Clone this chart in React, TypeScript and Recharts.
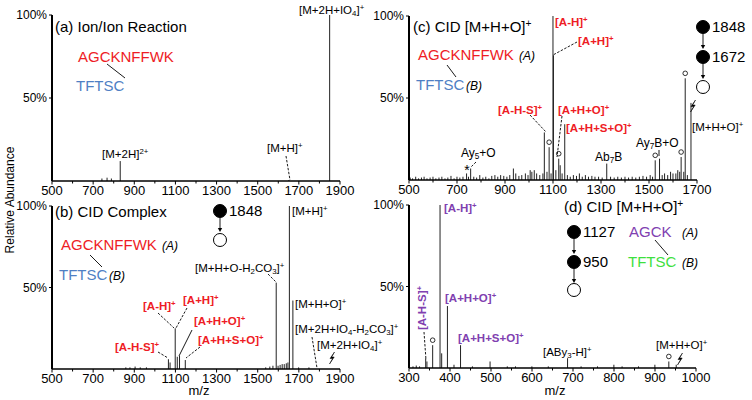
import React from "react";
import { ComposedChart, Bar, XAxis, YAxis } from "recharts";

// (a) Ion/Ion reaction
const ionIonMz = [741, 766, 787, 830, 1650, 1848];
const ionIonInt = [1.5, 2, 1.5, 12, 0.6, 100];

// (b) CID of the complex
const complexMz = [860, 880, 905, 930, 960, 1067, 1075, 1100, 1110, 1121, 1149, 1540, 1560, 1575, 1591, 1600, 1610, 1620, 1630, 1640, 1648, 1655, 1672, 1700, 1750];
const complexInt = [1, 1, 1.5, 1, 1, 6, 4, 25, 7.5, 8, 5.5, 1, 1.5, 2, 53, 2, 2.5, 3, 3, 3.5, 4, 100, 42, 1, 1];

// (c) CID [M+H+O]+ (1672)
const cidMz = [
  505, 515, 528, 540, 552, 563, 575, 588, 600, 612, 625, 637, 650, 662, 675, 688, 700, 712, 725, 740,
  748, 757, 770, 782, 795, 808, 820, 833, 845, 858, 870, 882, 895, 908, 920, 935, 945, 958, 970, 985,
  996, 1005, 1012, 1022, 1032, 1045, 1058, 1064, 1075, 1084, 1092, 1100, 1102, 1112, 1124, 1130, 1138,
  1149, 1160, 1172, 1185, 1198, 1210, 1222, 1235, 1248, 1262, 1275, 1290, 1305, 1324, 1340, 1355, 1370,
  1385, 1400, 1415, 1430, 1445, 1460, 1475, 1490, 1505, 1515, 1526, 1544, 1555, 1565, 1578, 1590, 1600,
  1612, 1620, 1628, 1634, 1645, 1651, 1660, 1675,
];
const cidInt = [
  1.5, 1, 2, 1, 1.5, 2, 1, 1.5, 2, 1, 1.5, 2, 1, 1.5, 2.5, 1, 2, 1.5, 2, 4,
  2, 7, 2, 1.5, 3, 1.5, 2, 1, 2.5, 3, 2, 3, 2.5, 2, 3, 7, 4, 2.5, 3, 4,
  3, 6, 5, 6, 4, 3, 4, 29, 5, 20, 4, 100, 76, 6, 13, 9, 4,
  34, 3, 2, 3, 2.5, 4, 2, 3, 2, 2.5, 2, 2, 1.5, 10, 2, 1.5, 2,
  1.5, 2, 1.5, 2, 1.5, 2, 2.5, 2, 3, 2, 12, 13, 3, 4, 3, 5, 4,
  4, 6, 5, 14, 5, 62, 3, 47,
];
const cidCircled = [1084, 1124, 1526, 1634, 1651];

// (d) CID [M+H+O]+ (950)
const subMz = [310, 318, 326, 341, 344, 358, 376, 380, 394, 410, 426, 455, 498, 540, 560, 600, 640, 687, 720, 760, 800, 820, 860, 900, 934, 952];
const subInt = [1, 1.5, 1, 6, 4, 14, 100, 9, 38, 2, 14, 1, 4, 1, 1, 1, 1, 6, 1, 1, 2, 1, 1, 2, 4, 2];
const subCircled = [358, 934];

// axis ticks
const ticksWide = [500, 600, 700, 800, 900, 1000, 1100, 1200, 1300, 1400, 1500, 1600, 1700, 1800, 1900];
const ticksC = [500, 600, 700, 800, 900, 1000, 1100, 1200, 1300, 1400, 1500, 1600, 1700];
const ticksD = [300, 350, 400, 450, 500, 550, 600, 650, 700, 750, 800, 850, 900, 950, 1000];
const yTicks = [50, 100];

const RED = "#ee1c25";
const BLUE = "#4f7fc4";
const PURPLE = "#8040b0";
const GREEN = "#3ee03e";

function buildData(mz: number[], int: number[], circled: number[] = []) {
  return mz.map((m, i) => ({ mz: m, int: int[i], circled: circled.includes(m) }));
}

function Peak(props: any) {
  const { x, y, width, height, payload } = props;
  if (x == null || y == null || !height || height <= 0) return null;
  const cx = x + width / 2;
  return (
    <g>
      <line x1={cx} x2={cx} y1={y} y2={y + height} stroke="#222" strokeWidth={1} />
      {payload && payload.circled && (
        <circle cx={cx} cy={y - 5} r={2.3} fill="#fff" stroke="#000" strokeWidth={0.8} />
      )}
    </g>
  );
}

function XTick(props: any) {
  const { x, y, payload, start, step } = props;
  const axisY = y - 3;
  const major = (payload.value - start) % step === 0;
  return (
    <g>
      <line x1={x} x2={x} y1={axisY} y2={axisY + (major ? 3.5 : 2.5)} stroke="#000" strokeWidth={1} />
      {major && (
        <text x={x} y={axisY + 4.5} dy="0.71em" textAnchor="middle" fontSize={13} fill="#000">
          {payload.value}
        </text>
      )}
    </g>
  );
}

interface PanelProps {
  left: number;
  top: number;
  width: number;
  height: number;
  marginTop: number;
  marginRight: number;
  yWidth: number;
  xHeight: number;
  data: any[];
  domain: [number, number];
  ticks: number[];
  step: number;
}

function Panel(p: PanelProps) {
  return (
    <div style={{ position: "absolute", left: p.left, top: p.top }}>
      <ComposedChart
        width={p.width}
        height={p.height}
        data={p.data}
        margin={{ top: p.marginTop, right: p.marginRight, left: 0, bottom: 0 }}
      >
        <XAxis
          type="number"
          dataKey="mz"
          domain={p.domain}
          ticks={p.ticks}
          interval={0}
          allowDataOverflow
          height={p.xHeight}
          axisLine={{ stroke: "#000", strokeWidth: 1.5 }}
          tickLine={false}
          tickSize={3}
          tickMargin={0}
          tick={<XTick start={p.domain[0]} step={p.step} />}
        />
        <YAxis
          type="number"
          domain={[0, 100]}
          ticks={yTicks}
          width={p.yWidth}
          axisLine={{ stroke: "#000", strokeWidth: 2 }}
          tickLine={{ stroke: "#000" }}
          tickSize={3}
          tickMargin={2}
          tick={{ fill: "#000", fontSize: 12 }}
          tickFormatter={(v: number) => `${v}%`}
        />
        <Bar dataKey="int" barSize={1} isAnimationActive={false} shape={(sp: any) => <Peak {...sp} />} />
      </ComposedChart>
    </div>
  );
}

interface RichProps {
  x: number;
  y: number;
  s: string;
  size?: number;
  fill?: string;
  bold?: boolean;
  italic?: boolean;
  anchor?: "start" | "middle" | "end";
  rotate?: number;
}

// "^{..}" superscript, "_{..}" subscript
function Rich({ x, y, s, size = 11.5, fill = "#000", bold, italic, anchor = "start", rotate }: RichProps) {
  const parts = s.split(/(\^\{[^}]*\}|_\{[^}]*\})/).filter(Boolean);
  let shift = 0;
  return (
    <text
      x={x}
      y={y}
      fontSize={size}
      fill={fill}
      fontWeight={bold ? "bold" : "normal"}
      fontStyle={italic ? "italic" : "normal"}
      textAnchor={anchor}
      transform={rotate ? `rotate(${rotate} ${x} ${y})` : undefined}
    >
      {parts.map((t, i) => {
        let target = 0;
        let txt = t;
        let fs: number | undefined = undefined;
        if (t.startsWith("^{")) {
          target = -size * 0.36;
          txt = t.slice(2, -1);
          fs = size * 0.68;
        } else if (t.startsWith("_{")) {
          target = size * 0.18;
          txt = t.slice(2, -1);
          fs = size * 0.68;
        }
        const dy = target - shift;
        shift = target;
        return (
          <tspan key={i} dy={dy || undefined} fontSize={fs}>
            {txt}
          </tspan>
        );
      })}
    </text>
  );
}

function Dash({ x1, y1, x2, y2, solid }: { x1: number; y1: number; x2: number; y2: number; solid?: boolean }) {
  return (
    <line x1={x1} y1={y1} x2={x2} y2={y2} stroke="#000" strokeWidth={0.9} strokeDasharray={solid ? undefined : "2.5 1.5"} />
  );
}

function Bolt({ x, y }: { x: number; y: number }) {
  return (
    <path
      d={`M${x + 2.5} ${y - 6} L${x - 2} ${y + 0.5} L${x + 0.6} ${y + 0.5} L${x - 2.5} ${y + 6} L${x + 2.2} ${y - 1} L${x - 0.3} ${y - 1} Z`}
      fill="#000"
      stroke="#000"
      strokeWidth={0.5}
    />
  );
}

function Node({ x, y, filled }: { x: number; y: number; filled: boolean }) {
  return <circle cx={x} cy={y} r={6.5} fill={filled ? "#000" : "#fff"} stroke="#000" strokeWidth={1} />;
}

function Arrow({ x, y1, y2 }: { x: number; y1: number; y2: number }) {
  return (
    <g>
      <line x1={x} x2={x} y1={y1} y2={y2 - 3} stroke="#000" strokeWidth={0.9} />
      <path d={`M${x - 2.2} ${y2 - 4} L${x + 2.2} ${y2 - 4} L${x} ${y2} Z`} fill="#000" />
    </g>
  );
}

function Overlay() {
  return (
    <svg width={752} height={400} style={{ position: "absolute", left: 0, top: 0, pointerEvents: "none" }}>
      <Rich x={14} y={200} s="Relative Abundance" size={12} anchor="middle" rotate={-90} />

      {/* (a) */}
      <Rich x={55} y={32} s="(a) Ion/Ion Reaction" size={15} />
      <Rich x={78} y={62} s="AGCKNFFWK" size={15} fill={RED} />
      <Rich x={76} y={91} s="TFTSC" size={15} fill={BLUE} />
      <Dash x1={107} y1={64} x2={125} y2={78} solid />
      <Rich x={102} y={158} s="[M+2H]^{2+}" />
      <Rich x={267} y={152} s="[M+H]^{+}" />
      <Dash x1={286} y1={156} x2={290} y2={180} />
      <Rich x={299} y={14} s="[M+2H+IO_{4}]^{+}" />

      {/* (c) */}
      <Rich x={413} y={32} s="(c) CID [M+H+O]^{+}" size={15} />
      <Rich x={418} y={60} s="AGCKNFFWK" size={15} fill={RED} />
      <Rich x={519} y={60} s="(A)" size={12} italic />
      <Rich x={416} y={90} s="TFTSC" size={15} fill={BLUE} />
      <Rich x={466} y={90} s="(B)" size={12} italic />
      <Dash x1={447} y1={65} x2={456} y2={77} solid />
      <Rich x={555} y={26} s="[A-H]^{+}" bold fill={RED} />
      <Rich x={578} y={45} s="[A+H]^{+}" bold fill={RED} />
      <Dash x1={577} y1={42} x2={553} y2={55} />
      <Rich x={498} y={114} s="[A-H-S]^{+}" bold fill={RED} />
      <Dash x1={530} y1={115} x2={546} y2={132} />
      <Rich x={558} y={114} s="[A+H+O]^{+}" bold fill={RED} />
      <Dash x1={562} y1={116} x2={557} y2={157} />
      <Rich x={566} y={132} s="[A+H+S+O]^{+}" bold fill={RED} />
      <Rich x={461} y={157} s="Ay_{5}+O" size={12} />
      <Rich x={467} y={175} s="*" size={14} anchor="middle" />
      <Dash x1={476} y1={162} x2={471} y2={167} />
      <Rich x={595} y={161} s="Ab_{7}B" size={12} />
      <Rich x={636} y={147} s="Ay_{7}B+O" size={12} />
      <Dash x1={659} y1={150} x2={659} y2={156} solid />
      <Node x={703} y={27} filled />
      <Rich x={712} y={32} s="1848" size={15} />
      <Arrow x={703} y1={34} y2={49} />
      <Node x={703} y={57} filled />
      <Rich x={712} y={62} s="1672" size={15} />
      <Arrow x={703} y1={64} y2={79} />
      <Node x={703} y={87} filled={false} />
      <Bolt x={693} y={106} />
      <Rich x={692} y={131} s="[M+H+O]^{+}" />

      {/* (b) */}
      <Rich x={55} y={217} s="(b) CID Complex" size={15} />
      <Node x={220} y={211} filled />
      <Rich x={229} y={216} s="1848" size={15} />
      <Arrow x={220} y1={218} y2={232} />
      <Node x={220} y={240} filled={false} />
      <Rich x={61} y={250} s="AGCKNFFWK" size={15} fill={RED} />
      <Rich x={162} y={250} s="(A)" size={12} italic />
      <Rich x={59} y={280} s="TFTSC" size={15} fill={BLUE} />
      <Rich x={109} y={280} s="(B)" size={12} italic />
      <Dash x1={90} y1={255} x2={102} y2={267} solid />
      <Rich x={143} y={310} s="[A-H]^{+}" bold fill={RED} />
      <Dash x1={158} y1={313} x2={174} y2={328} />
      <Rich x={183} y={304} s="[A+H]^{+}" bold fill={RED} />
      <Dash x1={187} y1={308} x2={176} y2={328} />
      <Rich x={194} y={325} s="[A+H+O]^{+}" bold fill={RED} />
      <Dash x1={192} y1={330} x2={179} y2={356} solid />
      <Rich x={198} y={344} s="[A+H+S+O]^{+}" bold fill={RED} />
      <Dash x1={200} y1={347} x2={186} y2={358} />
      <Rich x={115} y={351} s="[A-H-S]^{+}" bold fill={RED} />
      <Dash x1={158} y1={352} x2={168} y2={358} />
      <Rich x={195} y={272} s="[M+H+O-H_{2}CO_{3}]^{+}" />
      <Dash x1={268} y1={274} x2={276} y2={282} />
      <Rich x={292} y={215} s="[M+H]^{+}" />
      <Rich x={295} y={308} s="[M+H+O]^{+}" />
      <Rich x={295} y={333} s="[M+2H+IO_{4}-H_{2}CO_{3}]^{+}" />
      <Rich x={317} y={349} s="[M+2H+IO_{4}]^{+}" />
      <Dash x1={312} y1={337} x2={317} y2={368} />
      <Bolt x={332} y={358} />
      <Rich x={199} y={395} s="m/z" size={13} anchor="middle" />

      {/* (d) */}
      <Rich x={564} y={212} s="(d) CID [M+H+O]^{+}" size={15} />
      <Node x={574} y={232} filled />
      <Rich x={583} y={237} s="1127" size={15} />
      <Arrow x={574} y1={239} y2={254} />
      <Node x={574} y={262} filled />
      <Rich x={583} y={267} s="950" size={15} />
      <Arrow x={574} y1={269} y2={283} />
      <Node x={574} y={290} filled={false} />
      <Rich x={629} y={237} s="AGCK" size={15} fill={PURPLE} />
      <Rich x={682} y={237} s="(A)" size={12} italic />
      <Rich x={628} y={267} s="TFTSC" size={15} fill={GREEN} />
      <Rich x={682} y={267} s="(B)" size={12} italic />
      <Dash x1={655} y1={240} x2={668} y2={255} solid />
      <Rich x={444} y={212} s="[A-H]^{+}" bold fill={PURPLE} />
      <Rich x={445} y={302} s="[A+H+O]^{+}" bold fill={PURPLE} />
      <Rich x={458} y={342} s="[A+H+S+O]^{+}" bold fill={PURPLE} />
      <Rich x={426} y={308} s="[A-H-S]^{+}" bold fill={PURPLE} anchor="middle" rotate={-90} />
      <Dash x1={424} y1={332} x2={426} y2={360} />
      <Rich x={543} y={356} s="[ABy_{3}-H]^{+}" />
      <Rich x={656} y={349} s="[M+H+O]^{+}" />
      <Bolt x={680} y={359} />
      <Rich x={555} y={395} s="m/z" size={13} anchor="middle" />
    </svg>
  );
}

export default function App() {
  const dataA = buildData(ionIonMz, ionIonInt);
  const dataB = buildData(complexMz, complexInt);
  const dataC = buildData(cidMz, cidInt, cidCircled);
  const dataD = buildData(subMz, subInt, subCircled);
  return (
    <div
      style={{
        position: "absolute",
        left: 0,
        top: 0,
        width: 752,
        height: 400,
        background: "#fff",
        fontFamily: "'Liberation Sans', Arial, sans-serif",
        overflow: "hidden",
      }}
    >
      <Panel left={0} top={0} width={376} height={200} marginTop={15} marginRight={36} yWidth={52} xHeight={19}
        data={dataA} domain={[500, 1900]} ticks={ticksWide} step={200} />
      <Panel left={0} top={190} width={376} height={210} marginTop={16} marginRight={36} yWidth={52} xHeight={31}
        data={dataB} domain={[500, 1900]} ticks={ticksWide} step={200} />
      <Panel left={370} top={0} width={382} height={200} marginTop={16} marginRight={55} yWidth={39} xHeight={20}
        data={dataC} domain={[500, 1700]} ticks={ticksC} step={200} />
      <Panel left={370} top={190} width={382} height={210} marginTop={15} marginRight={56} yWidth={39} xHeight={32}
        data={dataD} domain={[300, 1000]} ticks={ticksD} step={100} />
      <Overlay />
    </div>
  );
}
